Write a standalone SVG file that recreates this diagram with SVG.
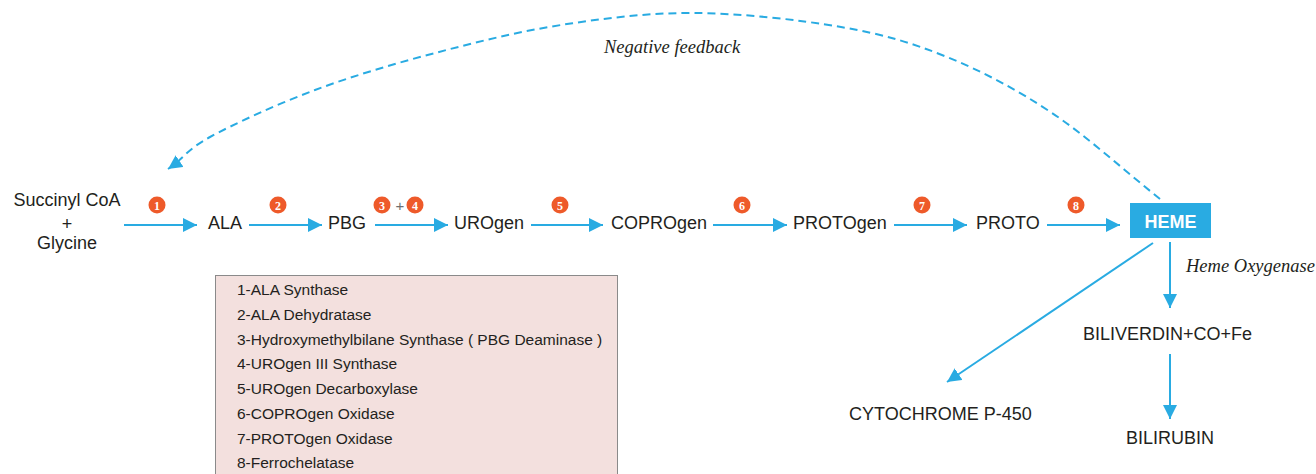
<svg xmlns="http://www.w3.org/2000/svg" width="1316" height="474" viewBox="0 0 1316 474">
<defs>
<style>
.lbl{font-family:"Liberation Sans",Arial,sans-serif;font-size:18px;fill:#231f20}
.leg{font-family:"Liberation Sans",Arial,sans-serif;font-size:15.5px;fill:#231f20}
.ital{font-family:"Liberation Serif","Times New Roman",serif;font-style:italic;font-size:18.5px;fill:#231f20}
.conn{stroke:#29abe2;stroke-width:2;fill:none}
.badge circle{fill:#ee5a2a}
.badge text{font-family:"Liberation Serif","Times New Roman",serif;font-weight:bold;font-size:12px;fill:#ffffff;text-anchor:middle}
</style>
<marker id="ah" viewBox="0 0 14 14" refX="14" refY="7" markerWidth="14" markerHeight="14" markerUnits="userSpaceOnUse" orient="auto">
<path d="M0,0 L14,7 L0,14 z" fill="#29abe2"/>
</marker>
</defs>
<rect width="1316" height="474" fill="#ffffff"/>

<g id="connectors">
<line class="conn" x1="124" y1="225" x2="197" y2="225" marker-end="url(#ah)"/>
<line class="conn" x1="249" y1="225" x2="322" y2="225" marker-end="url(#ah)"/>
<line class="conn" x1="375" y1="225" x2="448" y2="225" marker-end="url(#ah)"/>
<line class="conn" x1="531" y1="225" x2="603" y2="225" marker-end="url(#ah)"/>
<line class="conn" x1="713" y1="225" x2="787" y2="225" marker-end="url(#ah)"/>
<line class="conn" x1="894" y1="225" x2="967" y2="225" marker-end="url(#ah)"/>
<line class="conn" x1="1047" y1="225" x2="1120" y2="225" marker-end="url(#ah)"/>
<line class="conn" x1="1170" y1="242" x2="1170" y2="308" marker-end="url(#ah)"/>
<line class="conn" x1="1153" y1="243" x2="947" y2="382" marker-end="url(#ah)"/>
<line class="conn" x1="1170" y1="354" x2="1170" y2="419" marker-end="url(#ah)"/>
<path class="conn" stroke-dasharray="8,5" marker-end="url(#ah)" d="M1160,199 C1124,170.3 1087.5,136.7 1052,113 C1016.5,89.3 982.2,71.3 947,57 C911.8,42.7 883.2,34.3 841,27 C798.8,19.7 740.7,13.3 694,13 C647.3,12.7 604.2,18.3 561,25 C517.8,31.7 476,42.2 435,53 C394,63.8 352.5,76 315,90 C277.5,104 233.8,124 210,137 C186.2,150 184.7,157.7 168,169"/>
<text class="ital" x="604" y="53">Negative feedback</text>
<text class="ital" x="1186" y="272">Heme Oxygenase</text>
</g>

<g id="badges">
<g class="badge"><circle cx="157" cy="205" r="8.5"/><text x="157" y="209.5">1</text></g>
<g class="badge"><circle cx="278" cy="205" r="8.5"/><text x="278" y="209.5">2</text></g>
<g class="badge"><circle cx="382" cy="205" r="8.5"/><text x="382" y="209.5">3</text></g>
<text x="400" y="211" text-anchor="middle" style="font-family:'Liberation Sans',Arial,sans-serif;font-size:15px;fill:#6d6e71">+</text>
<g class="badge"><circle cx="415" cy="205" r="8.5"/><text x="415" y="209.5">4</text></g>
<g class="badge"><circle cx="560" cy="205" r="8.5"/><text x="560" y="209.5">5</text></g>
<g class="badge"><circle cx="742" cy="205" r="8.5"/><text x="742" y="209.5">6</text></g>
<g class="badge"><circle cx="922" cy="205" r="8.5"/><text x="922" y="209.5">7</text></g>
<g class="badge"><circle cx="1076" cy="205" r="8.5"/><text x="1076" y="209.5">8</text></g>
</g>

<g id="node-substrate">
<text class="lbl" x="67" y="206" text-anchor="middle">Succinyl CoA</text>
<text class="lbl" x="67" y="230" text-anchor="middle">+</text>
<text class="lbl" x="67" y="249" text-anchor="middle">Glycine</text>
</g>
<g id="node-ala"><text class="lbl" x="208" y="229">ALA</text></g>
<g id="node-pbg"><text class="lbl" x="328" y="229">PBG</text></g>
<g id="node-urogen"><text class="lbl" x="454" y="229">UROgen</text></g>
<g id="node-coprogen"><text class="lbl" x="611" y="229">COPROgen</text></g>
<g id="node-protogen"><text class="lbl" x="793" y="229">PROTOgen</text></g>
<g id="node-proto"><text class="lbl" x="976" y="229">PROTO</text></g>
<g id="node-heme">
<rect x="1130" y="203" width="81" height="35" fill="#29abe2"/>
<text x="1170.5" y="228" text-anchor="middle" style="font-family:'Liberation Sans',Arial,sans-serif;font-size:18px;font-weight:bold;fill:#ffffff">HEME</text>
</g>
<g id="node-biliverdin"><text class="lbl" x="1083" y="340">BILIVERDIN+CO+Fe</text></g>
<g id="node-cytochrome"><text class="lbl" x="849" y="420">CYTOCHROME P-450</text></g>
<g id="node-bilirubin"><text class="lbl" x="1126" y="444">BILIRUBIN</text></g>

<g id="legend">
<rect x="215.5" y="275.5" width="402" height="215" fill="#f3e0de" stroke="#8a8a8a" stroke-width="1"/>
<text class="leg" x="237" y="295">1-ALA Synthase</text>
<text class="leg" x="237" y="320">2-ALA Dehydratase</text>
<text class="leg" x="237" y="344.5">3-Hydroxymethylbilane Synthase ( PBG Deaminase )</text>
<text class="leg" x="237" y="369">4-UROgen III Synthase</text>
<text class="leg" x="237" y="394">5-UROgen Decarboxylase</text>
<text class="leg" x="237" y="419">6-COPROgen Oxidase</text>
<text class="leg" x="237" y="443.5">7-PROTOgen Oxidase</text>
<text class="leg" x="237" y="468">8-Ferrochelatase</text>
</g>
</svg>
